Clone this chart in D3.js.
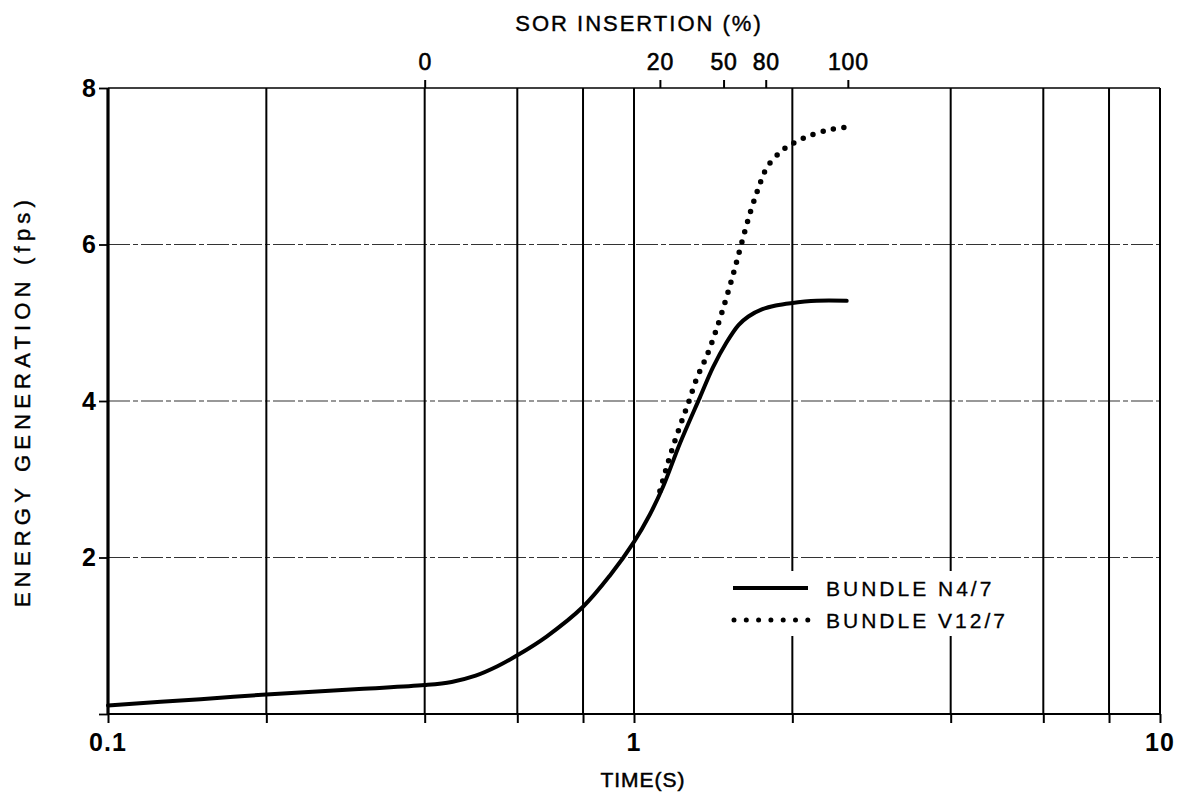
<!DOCTYPE html>
<html>
<head>
<meta charset="utf-8">
<script src="https://cdn.jsdelivr.net/npm/d3@7"></script>
<style>
  html, body { margin: 0; padding: 0; background: #fff; }
  svg { display: block; }
  text { font-family: "Liberation Sans", Arial, sans-serif; fill: #000; }
</style>
</head>
<body>
<svg id="chart" width="1184" height="798"></svg>
<script>
// ---- data ----
const n4Time  = [0.1, 0.15, 0.2, 0.3, 0.4, 0.45, 0.5, 0.55, 0.6, 0.682, 0.8, 0.9, 1.0, 1.072, 1.135, 1.223, 1.335, 1.413, 1.5, 1.58, 1.65, 1.75, 1.86, 1.986, 2.225, 2.537];
const n4Value = [0.11, 0.19, 0.25, 0.32, 0.37, 0.41, 0.49, 0.61, 0.75, 0.99, 1.37, 1.77, 2.20, 2.55, 2.90, 3.46, 4.05, 4.43, 4.75, 4.97, 5.08, 5.17, 5.22, 5.25, 5.28, 5.28];
const v12Time  = [1.12, 1.171, 1.223, 1.268, 1.316, 1.374, 1.437, 1.5, 1.55, 1.602, 1.662, 1.724, 1.788, 1.896, 1.98, 2.1, 2.325, 2.537];
const v12Value = [2.85, 3.30, 3.68, 3.97, 4.29, 4.57, 4.93, 5.33, 5.66, 6.02, 6.40, 6.72, 6.98, 7.18, 7.27, 7.36, 7.46, 7.50];
const xGridTicks = [0.1, 0.2, 0.4, 0.6, 0.8, 1, 2, 4, 6, 8, 10];
const xLabelTicks = [0.1, 1, 10];
const xLabels = ["0.1", "1", "10"];
const yTicks = [0, 2, 4, 6, 8];
const yLabels = ["", "2", "4", "6", "8"];
const sorTimes = [0.4, 1.12, 1.48, 1.78, 2.55];
const sorLabels = ["0", "20", "50", "80", "100"];
const seriesNames = ["BUNDLE N4/7", "BUNDLE V12/7"];

// ---- layout ----
const svg = d3.select("#chart");
const L = 108, R = 1160, T = 88, B = 714;
const x = d3.scaleLog().domain([0.1, 10]).range([L, R]);
const y = d3.scaleLinear().domain([0, 8]).range([B, T]);

// horizontal grid (dash-dot)
svg.append("g").selectAll("line").data([2, 4, 6]).join("line")
  .attr("x1", L).attr("x2", R)
  .attr("y1", d => y(d)).attr("y2", d => y(d))
  .attr("stroke", "#333").attr("stroke-width", 1.2)
  .attr("stroke-dasharray", "22,3,5,3");

// top border
svg.append("line").attr("x1", L).attr("x2", R).attr("y1", T).attr("y2", T)
  .attr("stroke", "#000").attr("stroke-width", 1.6);

// vertical grid
svg.append("g").selectAll("line").data(xGridTicks.filter(d => d > 0.1)).join("line")
  .attr("x1", d => x(d)).attr("x2", d => x(d))
  .attr("y1", T).attr("y2", B)
  .attr("stroke", "#000").attr("stroke-width", 2);

// bottom axis
const xAxis = d3.axisBottom(x).tickValues(xGridTicks).tickSize(9).tickFormat("");
const gx = svg.append("g").attr("transform", `translate(0,${B})`).call(xAxis);
gx.select(".domain").attr("stroke-width", 2.2).attr("d", `M${L},0H${R}`);
gx.selectAll(".tick line").attr("stroke-width", 2);
svg.append("g").selectAll("text").data(xLabelTicks).join("text")
  .attr("x", d => x(d)).attr("y", B + 37)
  .attr("text-anchor", "middle")
  .style("font-size", "25px").style("font-weight", "bold").attr("letter-spacing", 1)
  .text((d, i) => xLabels[i]);

// left axis
const yAxis = d3.axisLeft(y).tickValues(yTicks).tickSize(9).tickFormat((d, i) => yLabels[i]);
const gy = svg.append("g").attr("transform", `translate(${L},0)`).call(yAxis);
gy.select(".domain").attr("stroke-width", 3.2).attr("d", `M0,${T}V${B}`);
gy.selectAll(".tick line").attr("stroke-width", 1.8);
gy.selectAll(".tick text").style("font-size", "25px").style("font-weight", "bold")
  .style("font-family", "Liberation Sans, Arial, sans-serif").attr("x", -12);

// top SOR axis
const tAxis = d3.axisTop(x).tickValues(sorTimes).tickSize(8).tickFormat((d, i) => sorLabels[i]);
const gt = svg.append("g").attr("transform", `translate(0,${T})`).call(tAxis);
gt.select(".domain").remove();
gt.selectAll(".tick line").attr("stroke-width", 2);
gt.selectAll(".tick text").style("font-size", "23px").attr("letter-spacing", 0.8)
  .style("font-family", "Liberation Sans, Arial, sans-serif").attr("y", -18)
  .attr("stroke", "#000").attr("stroke-width", 0.6);

// right border
svg.append("line").attr("x1", R).attr("x2", R).attr("y1", T).attr("y2", B)
  .attr("stroke", "#000").attr("stroke-width", 2);

// titles
svg.append("text").attr("x", 639).attr("y", 31).attr("text-anchor", "middle")
  .style("font-size", "22px").attr("letter-spacing", 2)
  .attr("stroke", "#000").attr("stroke-width", 0.4).text("SOR INSERTION (%)");
svg.append("text").attr("x", 643).attr("y", 787).attr("text-anchor", "middle")
  .style("font-size", "21px").attr("letter-spacing", 1)
  .attr("stroke", "#000").attr("stroke-width", 0.5).text("TIME(S)");
svg.append("text").attr("transform", "translate(30,401) rotate(-90)")
  .attr("text-anchor", "middle").style("font-size", "22px").attr("letter-spacing", 5.2)
  .attr("stroke", "#000").attr("stroke-width", 0.4)
  .text("ENERGY GENERATION  (fps)");

// legend background (breaks vertical grid)
svg.append("rect").attr("x", 722).attr("y", 571).attr("width", 290).attr("height", 65)
  .attr("fill", "#fff");

// curves
const line = d3.line().x(d => x(d[0])).y(d => y(d[1])).curve(d3.curveCatmullRom.alpha(0.5));
svg.append("path").datum(n4Time.map((t, i) => [t, n4Value[i]]))
  .attr("d", line).attr("fill", "none").attr("stroke", "#000")
  .attr("stroke-width", 4).attr("stroke-linejoin", "round").attr("stroke-linecap", "round");
svg.append("path").datum(v12Time.map((t, i) => [t, v12Value[i]]))
  .attr("d", line).attr("fill", "none").attr("stroke", "#000")
  .attr("stroke-width", 5.5).attr("stroke-linecap", "round").attr("stroke-dasharray", "0,10.5");

// legend
const lg = svg.append("g");
lg.append("line").attr("x1", 733).attr("x2", 808).attr("y1", 588).attr("y2", 588)
  .attr("stroke", "#000").attr("stroke-width", 4);
lg.append("line").attr("x1", 734).attr("x2", 808).attr("y1", 620).attr("y2", 620)
  .attr("stroke", "#000").attr("stroke-width", 5).attr("stroke-linecap", "round")
  .attr("stroke-dasharray", "0,12.3");
lg.append("text").attr("x", 826).attr("y", 596).style("font-size", "21px").attr("letter-spacing", 3)
  .attr("stroke", "#000").attr("stroke-width", 0.3).text(seriesNames[0]);
lg.append("text").attr("x", 826).attr("y", 628).style("font-size", "21px").attr("letter-spacing", 3)
  .attr("stroke", "#000").attr("stroke-width", 0.3).text(seriesNames[1]);
</script>
</body>
</html>
